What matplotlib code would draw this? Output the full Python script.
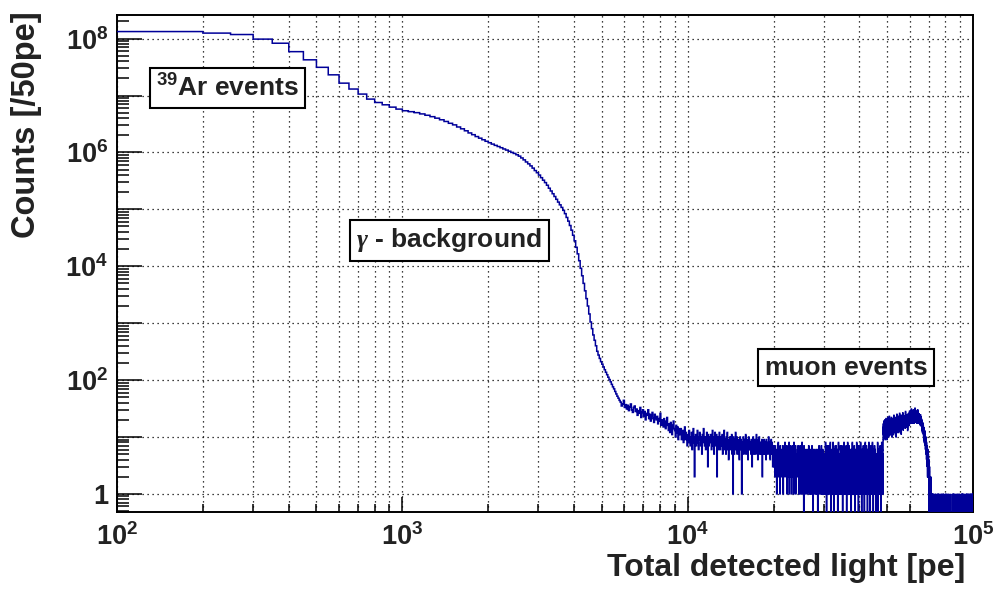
import numpy as np
import matplotlib
matplotlib.use('Agg')
from matplotlib import pyplot as plt
from matplotlib import ticker

plt.rcParams['font.family'] = ['Liberation Sans', 'DejaVu Sans']
plt.rcParams['font.weight'] = 'bold'
plt.rcParams['mathtext.fontset'] = 'custom'
plt.rcParams['mathtext.rm'] = 'Liberation Sans:bold'
plt.rcParams['mathtext.bf'] = 'Liberation Sans:bold'
# greek letters come from the 'it' font, serif gives a ROOT-like gamma
plt.rcParams['mathtext.it'] = 'Liberation Serif:italic:bold'


def digits(s):
    # one digit = one 50 pe bin
    return [int(c) for c in "".join(s.split())]


first_edge = 100   # pe
bin_width = 50     # pe

# 100 - 5800 pe, smooth part (39Ar + gamma)
counts_smooth = [
    1.33e8, 1.33e8, 1.25e8, 1.18e8, 9.8e7, 8.3e7, 5.9e7, 4.24e7, 3.13e7, 2.31e7,
    1.65e7, 1.30e7, 1.06e7, 8.65e6, 7.54e6, 6.87e6, 6.25e6, 5.77e6,
    5.4e6, 5.2e6, 5.0e6, 4.75e6, 4.5e6, 4.25e6, 4.0e6, 3.75e6, 3.5e6, 3.25e6,
    3.05e6, 2.8e6, 2.6e6, 2.4e6, 2.2e6, 2.05e6, 1.9e6, 1.78e6, 1.67e6, 1.57e6,
    1.48e6, 1.40e6, 1.33e6, 1.27e6, 1.21e6, 1.15e6, 1.10e6, 1.05e6, 1.0e6, 9.6e5,
    9.1e5, 8.6e5, 8.0e5, 7.4e5, 6.8e5, 6.3e5, 5.8e5, 5.3e5, 4.8e5, 4.4e5,
    4.0e5, 3.6e5, 3.25e5, 2.95e5, 2.65e5, 2.35e5, 2.1e5, 1.88e5, 1.68e5, 1.5e5,
    1.34e5, 1.2e5, 1.08e5, 9.6e4, 8.4e4, 7.2e4, 6.2e4, 5.2e4, 4.3e4, 3.5e4,
    2.8e4, 2.15e4, 1.65e4, 1.25e4, 9.2e3, 6.8e3, 5.0e3, 3.7e3, 2.7e3, 2.0e3,
    1450, 1050, 800, 620, 500, 400, 320, 275, 240, 210,
    190, 170, 152, 137, 124, 112, 102, 93, 84, 76,
    70, 63, 57, 52, 48, 44,
]

# 5800 - 10000 pe
counts_tail = [
    41, 35, 38, 44, 33, 37, 31, 36, 29, 34, 38, 30, 27, 33, 35, 28,
    31, 24, 29, 26, 33, 22, 27, 30, 23, 28, 20, 26, 24, 30, 21, 25,
    19, 24, 27, 21, 18, 25, 22, 20, 23, 17, 21, 19, 26, 16, 20, 18,
    15, 21, 17, 14, 19, 22, 16, 13, 17, 12, 18, 15, 11, 16, 19, 14,
    13, 10, 16, 12, 15, 9, 14, 11, 12, 14, 9, 11, 13, 8, 10, 15,
    9, 12, 10, 7,
]

# 10000 - 20000 pe
counts_bg = [
    11, 8, 13, 9, 7, 10, 12, 6, 9, 14,
    8, 2, 10, 11, 7, 9, 13, 8, 6, 10,
    12, 9, 7, 10, 5, 11, 8, 14, 9, 7,
    10, 6, 9, 12, 8, 3, 11, 7, 9, 10,
    8, 11, 6, 9, 13, 7, 10, 5, 8, 12,
    9, 7, 11, 2, 8, 10, 6, 9, 12, 7,
    6, 10, 8, 7, 11, 5, 9, 8, 13, 6,
    9, 7, 5, 10, 8, 12, 6, 9, 4, 8,
    7, 10, 8, 6, 9, 11, 5, 8, 1, 10,
    8, 5, 9, 7, 12, 6, 8, 10, 5, 7,
    9, 6, 8, 4, 7, 10, 6, 9, 7, 1,
    6, 8, 7, 10, 5, 8, 6, 9, 7, 11,
    5, 7, 9, 6, 8, 4, 7, 10, 6, 8,
    7, 6, 8, 5, 9, 7, 3, 8, 6, 10,
    8, 5, 7, 9, 6, 8, 5, 7, 11, 6,
    6, 9, 4, 7, 8, 6, 10, 5, 7, 8,
    7, 5, 8, 6, 9, 2, 7, 6, 8, 5,
    9, 6, 7, 5, 8, 7, 4, 9, 6, 7,
    5, 8, 6, 7, 10, 6, 5, 8, 7, 4,
    7, 6, 9, 5, 7, 8, 6, 3, 7, 6,
]

# 20000 - 48400 pe
counts_flat = digits("""
5364725346 1537482453 6173542645 3716254384
4625371542 6348152637 4513642735 1846253715
3542264735 1246371524 3618453426 0735421653
4253162425 3741352416 3154273614 0352643125
2436151342 6035142736 2413524371 5312463152
3415214381 5240371526 4171425326 1485304162
5213418234 0513264171 5734161352 4031685431
2314157632 4152731405 2631148352 6142315372
4031526814 1251374162 5314132605 1342185126
3125141762 5014231615 3284131526 3140573214
2513142835 1243051634 2251374152 3604132583
4125237416 3250314261 5318413621 5304125741
3216142385 1324052163 4157131461 3250431215
1423158162 0413251361 4125374132 5061421851
42315136
""")

# 48400 - 65000 pe, muon bump
counts_muon = [
    9, 14, 17, 11, 15, 12, 19, 10, 13, 16, 12, 18, 11, 14, 20, 13, 9, 15, 17, 12,
    16, 11, 14, 21, 13, 10, 15, 18, 12, 16, 14, 9, 17, 13, 19, 15, 11, 14, 22, 13,
    15, 18, 12, 16, 10, 14, 19, 13, 17, 15, 23, 12, 16, 14, 11, 18, 15, 20, 13, 16,
    14, 17, 11, 19, 15, 13, 16, 22, 12, 15, 18, 14, 10, 17, 15, 13, 21, 16, 12, 18,
    17, 13, 20, 15, 11, 18, 16, 14, 24, 13, 17, 15, 19, 12, 16, 21, 14, 18, 15, 13,
    19, 15, 12, 17, 22, 14, 16, 10, 18, 15, 20, 13, 17, 16, 25, 14, 18, 12, 16, 19,
    16, 20, 14, 18, 13, 17, 23, 15, 19, 16, 12, 18, 21, 15, 17, 14, 20, 16, 26, 13,
    18, 15, 21, 17, 14, 19, 16, 22, 13, 18, 17, 20, 15, 11, 19, 17, 24, 16, 18, 14,
    20, 16, 19, 14, 22, 17, 18, 27, 15, 19, 21, 13, 18, 16, 23, 17, 20, 15, 19, 18,
    17, 21, 15, 20, 18, 24, 16, 19, 22, 14, 20, 18, 28, 17, 21, 16, 19, 23, 15, 20,
    22, 18, 16, 21, 19, 25, 17, 20, 15, 23, 19, 21, 13, 18, 24, 20, 17, 22, 19, 26,
    19, 23, 17, 21, 26, 18, 22, 20, 16, 24, 19, 29, 21, 18, 23, 17, 20, 25, 19, 22,
    24, 19, 22, 27, 20, 18, 25, 21, 31, 19, 23, 20, 26, 17, 22, 24, 19, 28, 21, 23,
    20, 25, 22, 18, 27, 21, 24, 19, 30, 22, 20, 26, 23, 17, 25, 21, 28, 20, 24, 22,
    23, 19, 26, 21, 32, 20, 24, 18, 22, 27, 21, 25, 19, 23, 29, 20, 22, 26, 18, 24,
    21, 26, 19, 23, 20, 28, 22, 17, 25, 21, 24, 19, 30, 22, 18, 24, 21, 27, 20, 23,
    19, 24, 21, 26, 18, 22, 25, 20, 23, 17, 21, 24,
]

# 65000 - 72000 pe, falling edge
counts_edge = [
    22, 18, 24, 20, 17, 23, 19, 21, 16, 25, 18, 20, 22, 17, 19, 23, 16, 20, 18, 21,
    17, 15, 19, 14, 18, 16, 13, 20, 15, 17, 12, 16, 14, 18, 13, 15, 17, 12, 14, 16,
    13, 11, 14, 10, 12, 15, 9, 12, 11, 13, 8, 12, 10, 11, 9, 13, 10, 8, 11, 9,
    10, 7, 9, 6, 8, 7, 10, 5, 8, 6, 7, 9, 5, 6, 8, 4, 7, 5, 6, 7,
    5, 4, 6, 3, 5, 4, 2, 5, 3, 4, 6, 3, 2, 4, 3, 5, 2, 3, 4, 2,
    3, 2, 1, 3, 2, 0, 2, 1, 3, 1, 2, 0, 1, 2, 1, 0, 2, 1, 1, 0,
    1, 0, 1, 1, 0, 2, 0, 1, 0, 1, 0, 0, 1, 0, 1, 0, 0, 1, 0, 0,
]

# 72000 - 100000 pe
counts_late = digits("""
0100000000 1000000100 0000000000 0000100000
0010000000 0000000000 0100010000 0000001000
1000000000 0000000000 0000100000 1000000000
0000010000 0010000001 0000000000 0000000000
0100000100 0000010000 0000000000 0010000000
0000000010 0000000000 0000000001 0000000000
0000000000 0000000100 0000100010 0000000000
1000000000 0001000000 0000000000 0000010000
0000100000 0000000000 0000010000 0001000000
0000000000 0000000000 0100000100 0000100000
0100000000 1000000000 0000000100 0000000000
0000000000 0010000000 1000001000 0000000000
0010000001 0000000000 0000000000 1000010000
0000000000 1000000100 0000000010 0000000001
""")

segments = [counts_smooth, counts_tail, counts_bg, counts_flat,
            counts_muon, counts_edge, counts_late]
assert [len(s) for s in segments] == [114, 84, 200, 568, 332, 140, 560], [len(s) for s in segments]

counts = np.concatenate([np.array(s, dtype=float) for s in segments])
edges = first_edge + bin_width * np.arange(len(counts) + 1)
# empty bins fall off the bottom of the log axis, like in ROOT
shown = np.where(counts > 0, counts, 1e-3)

fig = plt.figure(figsize=(10.03, 5.90), dpi=100)
ax = fig.add_axes([117/1003, 1 - 512/590, 856/1003, 497/590])

ax.stairs(shown, edges, baseline=None, color='#000099', lw=1.1, zorder=3)

ax.set_xscale('log')
ax.set_yscale('log')
ax.set_xlim(100, 1e5)
ax.set_ylim(0.48, 2.6e8)

ax.set_xticks(10.0 ** np.arange(2, 6))
ax.set_yticks(10.0 ** np.arange(0, 9))
ax.xaxis.set_minor_locator(ticker.LogLocator(base=10, subs=np.arange(2, 10), numticks=20))
ax.yaxis.set_minor_locator(ticker.LogLocator(base=10, subs=np.arange(2, 10), numticks=20))
ax.xaxis.set_minor_formatter(ticker.NullFormatter())
ax.yaxis.set_minor_formatter(ticker.NullFormatter())


def xfmt(v, pos):
    return r'$\mathrm{10^{%d}}$' % round(np.log10(v))


def yfmt(v, pos):
    e = round(np.log10(v))
    if e == 0:
        return '1'
    if e % 2:
        return ''
    return r'$\mathrm{10^{%d}}$' % e


ax.xaxis.set_major_formatter(ticker.FuncFormatter(xfmt))
ax.yaxis.set_major_formatter(ticker.FuncFormatter(yfmt))

ax.tick_params(which='both', direction='in', top=False, right=False,
               width=1.1, colors='black', labelcolor='#222222', labelsize=19.5)
ax.tick_params(axis='x', which='major', length=10.8, pad=8)
ax.tick_params(axis='x', which='minor', length=5.8)
ax.tick_params(axis='y', which='major', length=18, pad=6.5)
ax.tick_params(axis='y', which='minor', length=8.6)

dots = (0, (1, 3))
ax.grid(True, which='major', axis='y', color='black', ls=dots, lw=0.9)
ax.grid(True, which='both', axis='x', color='black', ls=dots, lw=0.9)

for sp in ax.spines.values():
    sp.set_linewidth(1.4)
    sp.set_color('black')

fig.text(965/1003, 1 - 576/590, 'Total detected light [pe]', ha='right', va='baseline',
         fontsize=23, color='#222222')
fig.text(35/1003, 1 - 11/590, 'Counts [/50pe]', rotation=90, rotation_mode='anchor',
         ha='right', va='baseline', fontsize=23.5, color='#222222')

box = dict(boxstyle='square,pad=0.25', fc='white', ec='black', lw=1.5)
ax.text(0.129, 0.853, r'$\mathrm{^{39}}$Ar events', transform=ax.transAxes, ha='center', va='center',
        fontsize=19, color='#222222', bbox=box, zorder=5)
ax.text(0.388, 0.547, r'$\gamma$ - background', transform=ax.transAxes, ha='center', va='center',
        fontsize=19, color='#222222', bbox=box, zorder=5)
ax.text(0.852, 0.290, 'muon events', transform=ax.transAxes, ha='center', va='center',
        fontsize=19, color='#222222', bbox=box, zorder=5)

fig.savefig('out.png', dpi=100)
